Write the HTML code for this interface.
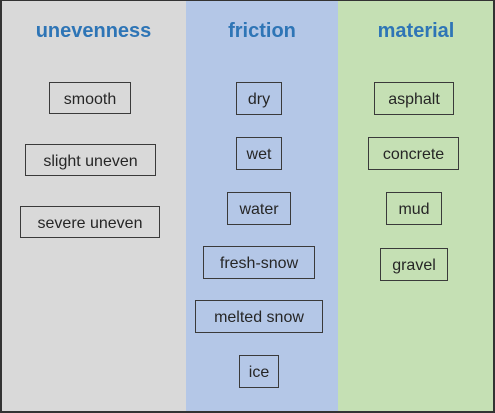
<!DOCTYPE html>
<html><head><meta charset="utf-8"><style>
html,body{margin:0;padding:0;width:495px;height:413px;background:#fff;overflow:hidden}
.c{position:absolute;top:1px;height:410px}
.b{position:absolute;border:1.5px solid #3a3a3a;box-sizing:border-box;display:flex;align-items:center;justify-content:center;padding-top:3px;font-family:"Liberation Sans","DejaVu Sans",sans-serif;font-size:16px;color:#262626;white-space:nowrap}
.t{position:absolute;top:20px;font-family:"Liberation Sans","DejaVu Sans",sans-serif;font-weight:bold;font-size:20px;color:#2e75b6;text-align:center}
#f{position:absolute;left:0;top:0;width:495px;height:413px;box-sizing:border-box;border:2px solid #333;border-top-width:1px}
</style></head><body>
<div class="c" style="left:1px;width:185px;background:#d9d9d9"></div>
<div class="c" style="left:186px;width:152px;background:#b4c7e7"></div>
<div class="c" style="left:338px;width:156px;background:#c5e0b4"></div>
<div id="f"></div>
<div class="t" style="left:1px;width:185px">unevenness</div>
<div class="t" style="left:186px;width:152px">friction</div>
<div class="t" style="left:338px;width:156px">material</div>

<div class="b" style="left:49px;top:82px;width:82px;height:32px">smooth</div>
<div class="b" style="left:25px;top:144px;width:131px;height:32px">slight uneven</div>
<div class="b" style="left:20px;top:206px;width:140px;height:32px">severe uneven</div>

<div class="b" style="left:236px;top:82px;width:46px;height:33px">dry</div>
<div class="b" style="left:236px;top:137px;width:46px;height:33px">wet</div>
<div class="b" style="left:227px;top:192px;width:64px;height:33px">water</div>
<div class="b" style="left:203px;top:246px;width:112px;height:33px">fresh-snow</div>
<div class="b" style="left:195px;top:300px;width:128px;height:33px">melted snow</div>
<div class="b" style="left:239px;top:355px;width:40px;height:33px">ice</div>

<div class="b" style="left:374px;top:82px;width:80px;height:33px">asphalt</div>
<div class="b" style="left:368px;top:137px;width:91px;height:33px">concrete</div>
<div class="b" style="left:386px;top:192px;width:56px;height:33px">mud</div>
<div class="b" style="left:380px;top:248px;width:68px;height:33px">gravel</div>
</body></html>
